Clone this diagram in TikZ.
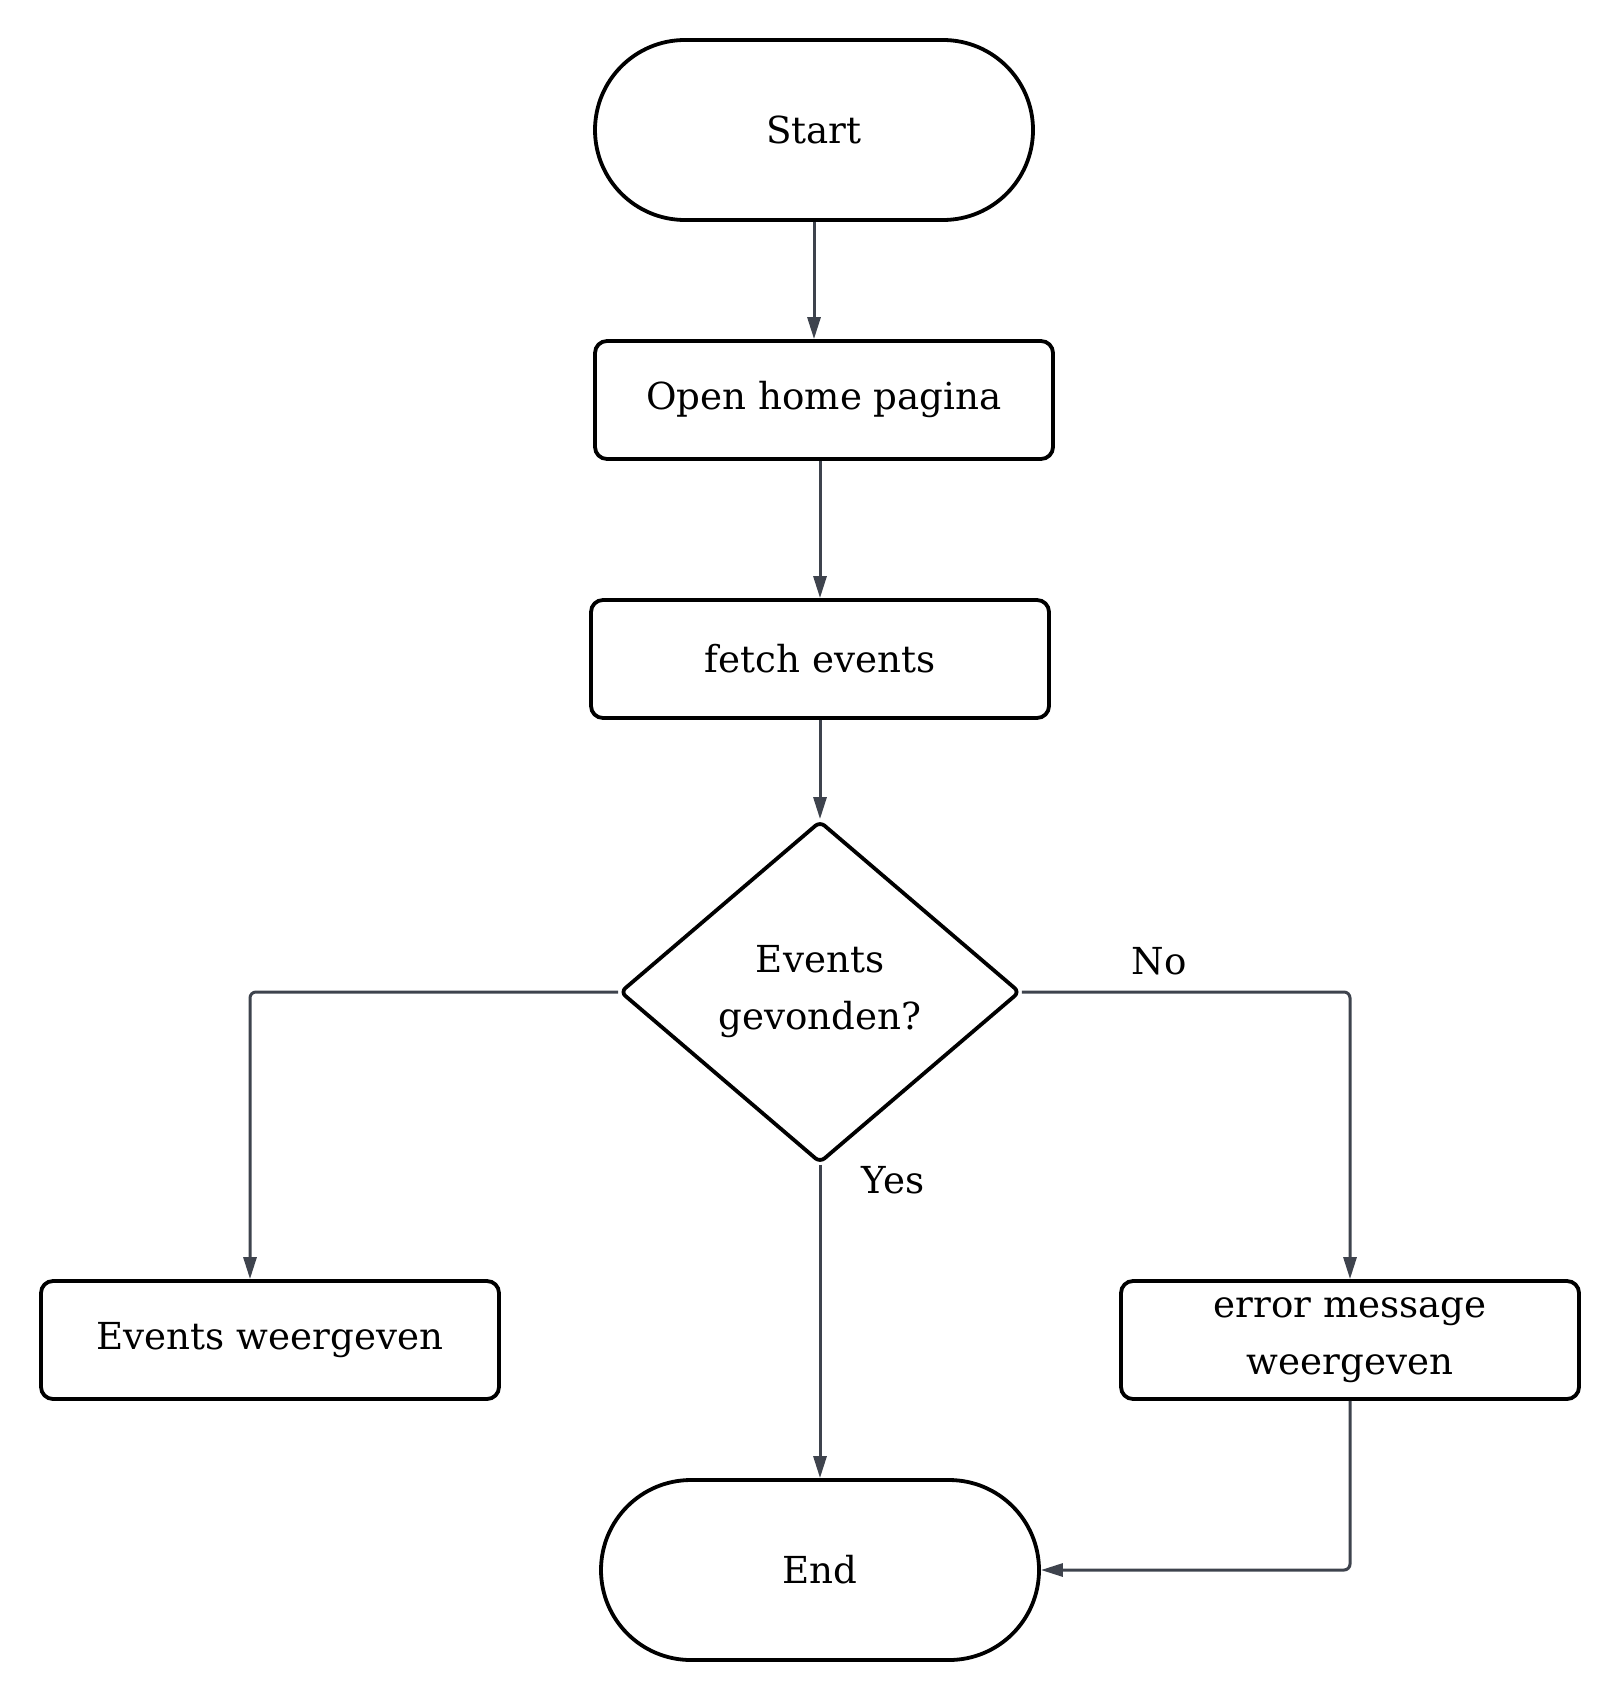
\documentclass[tikz,border=0pt]{standalone}
\usepackage{fontspec}
\setmainfont{DejaVu Serif}
\usetikzlibrary{shapes.geometric, arrows.meta, positioning}
\definecolor{cLine}{RGB}{62,67,77}
\tikzset{
	terminal/.style={rectangle, rounded corners=45pt, minimum width=219pt, minimum height=90pt, text centered, align=center, draw=black, line width=1.9pt},
	procbox/.style ={rectangle, rounded corners=6pt, minimum width=229pt, minimum height=59pt, text centered, align=center, draw=black, line width=1.9pt},
	decide/.style  ={diamond, minimum width=200pt, minimum height=171pt, inner sep=0pt, text centered, align=center, draw=black, line width=1.9pt, rounded corners=3pt},
	conn/.style    ={-{Triangle[length=11pt, width=6.5pt]}, draw=cLine, line width=1.5pt, rounded corners=3pt},
}
\begin{document}
\begin{tikzpicture}[x=0.5pt, y=-0.5pt, font=\fontsize{18.6}{28.5}\selectfont]
	\useasboundingbox (0,0) rectangle (1620,1700);
	\node[terminal] (start) at (814,130) {Start};
	\node[procbox] (open) at (824,400) {Open home pagina};
	\node[procbox] (fetch) at (820,659) {fetch events};
	\node[decide] (dec) at (820,992) {Events\\gevonden?};
	\node[procbox] (show) at (270,1340) {Events weergeven};
	\node[procbox] (err) at (1350,1340) {error message\\weergeven};
	\node[terminal] (stop) at (820,1570) {End};
	% branch labels
	\node (no) at (1159,961) {No};
	\node (yes) at (893,1180) {Yes};
	% connectors
	\draw[conn] (start.south) -- (start.south |- open.north);
	\draw[conn] (fetch.north |- open.south) -- (fetch.north);
	\draw[conn] (fetch.south) -- (dec.north);
	\draw[conn] (dec.west) -| ([xshift=-10pt]show.north);
	\draw[conn] (dec.east) -| (err.north);
	\draw[conn] (dec.south) -- (stop.north);
	\draw[conn] (err.south) |- (stop.east);
\end{tikzpicture}
\end{document}
